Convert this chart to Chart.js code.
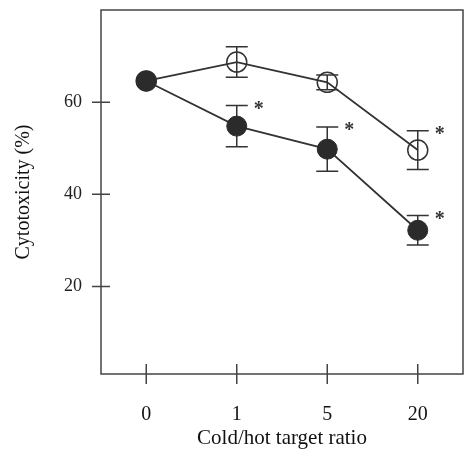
<!DOCTYPE html>
<html>
<head>
<meta charset="utf-8">
<script src="https://cdn.jsdelivr.net/npm/chart.js@4"></script>
<style>
  body { margin: 0; background: #fff; }
  #wrap { width: 465px; height: 451px; }
</style>
</head>
<body>
<div id="wrap"><canvas id="chart" width="465" height="451"></canvas></div>
<script>
// data
const categories = ['0', '1', '5', '20'];
const filledValues = [64.6, 54.8, 49.8, 32.2];
const filledErrors = [0, 4.5, 4.8, 3.2];
const openValues = [64.6, 68.7, 64.3, 49.6];
const openErrors = [0, 3.3, 1.6, 4.2];
const filledStars = [false, true, true, true];
const openStars = [false, false, false, true];
const yTicks = [20, 40, 60];

const ink = '#2b2b2b';

// error bars, asterisks, frame and cross-shaped ticks
const decorations = {
  id: 'decorations',
  beforeDatasetsDraw(chart) {
    const ctx = chart.ctx;
    const y = chart.scales.y;
    ctx.save();
    ctx.strokeStyle = '#333';
    ctx.lineWidth = 1.5;
    chart.data.datasets.forEach((ds, i) => {
      const meta = chart.getDatasetMeta(i);
      meta.data.forEach((pt, j) => {
        const e = ds.errors[j];
        if (!e) return;
        const top = y.getPixelForValue(ds.data[j] + e);
        const bot = y.getPixelForValue(ds.data[j] - e);
        ctx.beginPath();
        ctx.moveTo(pt.x, top); ctx.lineTo(pt.x, bot);
        ctx.moveTo(pt.x - 11, top); ctx.lineTo(pt.x + 11, top);
        ctx.moveTo(pt.x - 11, bot); ctx.lineTo(pt.x + 11, bot);
        ctx.stroke();
      });
    });
    ctx.restore();
  },
  afterDatasetsDraw(chart) {
    const ctx = chart.ctx;
    const y = chart.scales.y;
    ctx.save();
    ctx.fillStyle = '#333';
    ctx.font = 'bold 20px "Liberation Serif"';
    ctx.textAlign = 'center';
    ctx.textBaseline = 'middle';
    chart.data.datasets.forEach((ds, i) => {
      const meta = chart.getDatasetMeta(i);
      meta.data.forEach((pt, j) => {
        if (!ds.stars[j]) return;
        const top = y.getPixelForValue(ds.data[j] + ds.errors[j]);
        ctx.fillText('*', pt.x + 22, top + 4);
      });
    });
    ctx.restore();
  },
  afterDraw(chart) {
    const ctx = chart.ctx;
    const a = chart.chartArea;
    const x = chart.scales.x;
    const y = chart.scales.y;
    ctx.save();
    ctx.strokeStyle = '#444';
    ctx.lineWidth = 1.5;
    ctx.strokeRect(a.left, a.top, a.right - a.left, a.bottom - a.top);
    ctx.beginPath();
    yTicks.forEach(v => {
      const py = y.getPixelForValue(v);
      ctx.moveTo(a.left - 9, py); ctx.lineTo(a.left + 9, py);
    });
    categories.forEach((c, i) => {
      const px = x.getPixelForValue(i);
      ctx.moveTo(px, a.bottom - 10); ctx.lineTo(px, a.bottom + 10);
    });
    ctx.stroke();
    ctx.restore();
  }
};

new Chart(document.getElementById('chart'), {
  type: 'line',
  data: {
    labels: categories,
    datasets: [
      {
        label: 'filled',
        data: filledValues,
        errors: filledErrors,
        stars: filledStars,
        borderColor: '#333',
        borderWidth: 1.8,
        pointRadius: 10,
        pointBackgroundColor: ink,
        pointBorderColor: ink,
        pointBorderWidth: 1
      },
      {
        label: 'open',
        data: openValues,
        errors: openErrors,
        stars: openStars,
        borderColor: '#333',
        borderWidth: 1.8,
        pointRadius: 10,
        pointBackgroundColor: 'rgba(0,0,0,0)',
        pointBorderColor: '#333',
        pointBorderWidth: 1.5
      }
    ]
  },
  options: {
    responsive: false,
    animation: false,
    layout: { autoPadding: false, padding: { top: 10, right: 2, left: 0, bottom: 0 } },
    plugins: {
      legend: { display: false },
      tooltip: { enabled: false }
    },
    scales: {
      x: {
        type: 'category',
        offset: true,
        grid: { display: false, drawTicks: false },
        border: { display: false },
        ticks: {
          padding: 29,
          color: '#111',
          font: { family: 'Liberation Serif', size: 20 }
        },
        title: {
          display: true,
          text: 'Cold/hot target ratio',
          color: '#111',
          padding: 0,
          font: { family: 'Liberation Serif', size: 21 }
        },
        afterFit(scale) {
          scale.height = 77;
          scale.paddingLeft = 0;
          scale.paddingRight = 0;
        }
      },
      y: {
        min: 1,
        max: 80,
        grid: { display: false, drawTicks: false },
        border: { display: false },
        afterBuildTicks(scale) {
          scale.ticks = yTicks.map(v => ({ value: v }));
        },
        ticks: {
          padding: 19,
          color: '#222',
          font: { family: 'Liberation Serif', size: 18 }
        },
        title: {
          display: true,
          text: 'Cytotoxicity (%)',
          color: '#111',
          padding: { top: 12, bottom: 0 },
          font: { family: 'Liberation Serif', size: 20 }
        },
        afterFit(scale) {
          scale.width = 101;
          scale.paddingTop = 0;
          scale.paddingBottom = 0;
        }
      }
    }
  },
  plugins: [decorations]
});
</script>
</body>
</html>
